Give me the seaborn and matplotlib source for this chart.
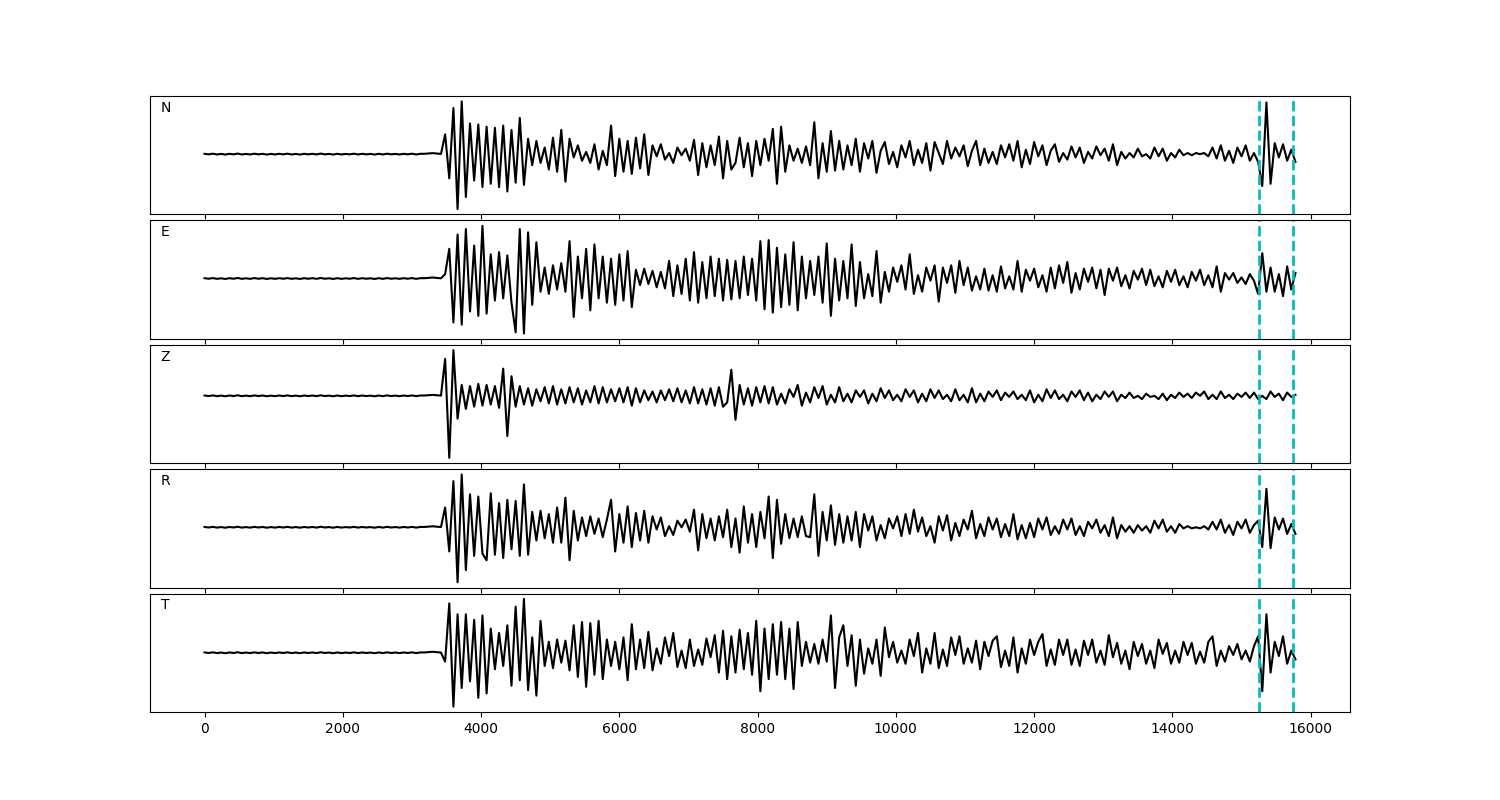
import numpy as np
import matplotlib
matplotlib.use("Agg")
import matplotlib.pyplot as plt
import seaborn as sns

dt = 60

channels = ["N", "E", "Z", "R", "T"]
picks = [15250, 15750]

# pre-event noise (shared by all channels)
quiet = [0.3, -0.2, 0.4, -0.3, 0.2, -0.4, 0.3, -0.2, 0.5, -0.3,
         0.2, -0.3, 0.4, -0.2, 0.3, -0.4, 0.2, -0.3, 0.3, -0.2,
         0.4, -0.3, 0.2, -0.4, 0.3, -0.2, 0.3, -0.3, 0.5, -0.2,
         0.2, -0.4, 0.3, -0.3, 0.2, -0.2, 0.4, -0.3, 0.3, -0.2,
         0.2, -0.4, 0.3, -0.3, 0.4, -0.2, 0.2, -0.3, 0.3, -0.2,
         0.4, -0.3, 0.3, 0.3, 0.6, 0.9, 0.6, 0.2]

n_trace = [18, -22, 42, -50, 48, -39, 28, -24, 27, -30,
           25, -27, 24, -30, 26, -34, 22, -26, 33, -28,
           14, -10, 12, -8, 6, -14, 15, -16, 22, -25,
           14, -3, 8, -6, 2, -8, 9, -14, 3, -10,
           26, -20, 14, -16, 12, -18, 15, -13, 18, -19,
           8, -2, 9, -5, 1, -8, 6, -1, 5, -6,
           13, -19, 10, -12, 8, -10, 16, -22, 12, -14,
           -8, 15, -12, 10, -20, 12, -10, 14, -6, 23,
           -27, 25, -16, 8, -6, 5, -8, 7, -10, 29,
           -22, 10, -16, 21, -15, 12, -14, 8, -10, 14,
           -16, 10, -4, 12, -17, 3, 11, -9, 2, -12,
           8, -3, 12, -10, 4, -8, 10, -15, 11, 1,
           -9, 12, -4, 6, -2, 8, -11, 3, 12, -10,
           5, -8, 2, -9, 8, -3, 9, -6, 12, -12,
           4, -9, 11, -2, 8, -10, 3, 9, -7, 1,
           -5, 7, -3, 6, -8, 2, -4, 7, -1, 5,
           -6, 9, -10, 2, -4, 1, -3, 5, -2, 0,
           -4, 6, -2, 5, -6, 1, -3, 4, -1, 1,
           -1, 1, 0, 1, -2, 6, -4, 8, -6, 3,
           -8, 6, -2, 8, -6, 1, -7, -29, 47, -27,
           10, -3, 9, -6, 4, -7]

e_trace = [4, 27, -40, 40, -42, 45, -30, 30, -34, 48,
           -32, 22, -20, 24, -18, 21, -22, -49, 45, -50,
           42, -24, 33, -12, 10, -14, 12, -10, 14, -12,
           34, -35, 20, -18, 27, -29, 31, -18, 20, -22,
           18, -24, 22, -20, 25, -26, 8, -6, 9, -5,
           7, -8, 6, -9, 16, -16, 12, -14, 18, -20,
           24, -22, 15, -18, 20, -16, 18, -20, 17, -19,
           16, -18, 20, -15, 18, -20, 34, -28, 35, -31,
           28, -26, 22, -24, 33, -29, 20, -18, 16, -15,
           20, -22, 32, -34, 18, -20, 16, -18, 31, -25,
           15, -18, 4, -16, 25, -22, 6, -12, 10, -3,
           12, -10, 22, -14, 3, -12, 10, -2, 12, -21,
           10, -4, 12, -13, 16, -6, 10, -11, 2, -10,
           9, -11, 3, -12, 11, -9, 2, -10, 16, -12,
           8, -2, 9, -8, 3, -12, 10, -9, 12, -4,
           15, -13, 5, -10, 9, -3, 10, -9, 8, -15,
           9, -2, 10, -7, 3, -9, 7, -1, 9, -6,
           8, -7, 2, -8, 7, -3, 8, -6, 2, -8,
           6, -2, 8, -6, 3, -8, 11, -12, 5, -1,
           5, -4, 1, -5, 4, -2, -14, 23, -12, 10,
           -12, 4, -16, 11, -10, 5]

z_trace = [34, -57, 42, -21, 10, -12, 9, -10, 11, -9,
           10, -8, 9, -11, 25, -37, 18, -10, 9, -8,
           7, -9, 6, -5, 8, -7, 9, -8, 6, -7,
           8, -6, 7, -8, 5, -6, 9, -7, 8, -6,
           6, -5, 7, -6, 8, -9, 7, -6, 5, -4,
           4, -6, 5, -4, 6, -5, 7, -6, 5, -7,
           8, -7, 6, -8, 7, -9, 8, -10, -6, 24,
           -22, 10, -8, 7, -9, 8, -6, 9, -7, 8,
           -8, 2, -7, 6, -1, 10, -9, 3, -6, 8,
           -2, 9, -8, 1, -6, 8, -5, 2, -6, 5,
           -1, 5, -7, 2, -5, 7, -2, 5, -4, 1,
           -5, 6, -1, 5, -6, 2, -5, 6, -2, 5,
           -3, 1, -5, 6, -4, 1, -6, 7, -6, 2,
           -5, 4, -1, 5, -4, 3, -1, 4, -3, 1,
           -4, 5, -6, 1, -5, 6, -2, 5, -3, 1,
           -5, 4, -1, 5, -4, 3, -5, 1, -3, 4,
           -1, 4, -5, 1, -2, 3, -2, 0, -3, 2,
           -1, 0, -3, 2, -4, 1, -2, 3, -1, 2,
           -2, 3, 0, 4, -3, 1, -3, 4, -2, 1,
           -3, 2, -1, 3, -2, 3, -3, 0, -3, 4,
           -1, 2, -4, 3, -1, 1]

r_trace = [18, -22, 42, -50, 48, -39, 30, -26, 28, -24,
           -30, 31, -25, 22, -28, 25, -20, 24, -26, 39,
           -25, 14, -12, 15, -10, 12, -14, 18, -14, 27,
           -30, 15, -12, 9, -8, 10, -6, 8, -9, 7,
           25, -22, 12, -14, 19, -18, 13, -12, 15, -14,
           10, -2, 9, -8, 1, -7, 6, 0, 7, -4,
           16, -21, 12, -10, 8, -12, 10, -9, 16, -18,
           8, -23, 19, -14, 12, -18, 14, -10, 28, -28,
           25, -15, 12, -10, 8, -9, 10, -8, -9, 30,
           -26, 14, -12, 20, -16, 12, -14, 10, -12, 14,
           -18, 12, -3, 10, -12, 2, -10, 8, -1, 10,
           -8, 12, -6, 16, -4, 9, -8, 1, -14, 10,
           -3, 11, -12, 4, -8, 7, -2, 15, -10, 3,
           -8, 9, -2, 8, -9, 3, -8, 12, -11, 2,
           -10, 4, -9, 8, -2, 9, -7, 1, -6, 7,
           -2, 8, -7, 1, -8, 5, -1, 7, -5, 2,
           -8, 9, -10, 2, -4, 1, -5, 2, -3, 1,
           -5, 6, -1, 7, -4, 1, -5, 3, -1, 1,
           -1, 0, -1, 1, -2, 5, -2, 7, -5, 2,
           -7, 5, -1, 7, -5, 2, 6, -18, 35, -19,
           9, -2, 8, -6, 3, -6]

t_trace = [-8, 45, -49, 35, -32, 35, -26, 30, -41, 34,
           -37, 22, -15, 18, -12, 25, -30, 42, -25, 49,
           -34, 14, -39, 29, -12, 10, -14, 12, -9, 11,
           -16, 25, -22, 28, -31, 27, -20, 29, -24, 12,
           -12, 10, -15, 14, -25, 26, -15, 12, -14, 19,
           -16, 4, -10, 14, -3, 18, -13, 2, -14, 12,
           -12, 3, -11, 13, -4, 16, -18, 20, -24, 15,
           -18, 21, -15, 18, -20, 29, -35, 22, -24, 26,
           -20, 28, -24, 22, -33, 28, -12, 10, -9, 8,
           -10, 12, -8, 34, -32, 14, 25, -12, 16, -30,
           12, -19, 4, -10, 12, -21, 23, -4, 10, -9,
           2, -10, 12, -3, 18, -18, 4, -10, 18, -14,
           3, -12, 14, -2, 15, -10, 4, -9, 11, -15,
           10, -3, 11, 15, -13, 2, -12, 14, -18, 4,
           -10, 12, -2, 10, 17, -12, 3, -11, 12, -2,
           12, -11, 3, -12, 11, -2, 12, -9, 2, -11,
           16, -4, 9, -10, 2, -15, 10, -3, 8, -10,
           2, -14, 12, -1, 9, -10, 2, -9, 10, -2,
           9, -10, 1, -9, 10, 15, -12, 2, -8, 6,
           -2, 8, -6, 2, -8, 6, 15, -35, 35, -18,
           10, -3, 15, -10, 2, -6]

traces = [n_trace, e_trace, z_trace, r_trace, t_trace]

fig, axes = plt.subplots(5, 1, figsize=(15, 8), dpi=100, sharex=True)
fig.subplots_adjust(left=0.1, right=0.9, top=0.88, bottom=0.11, hspace=0.05)

for ax, name, tr in zip(axes, channels, traces):
    amp = np.array(quiet + tr, dtype=float)
    t = np.arange(len(amp)) * dt
    sns.lineplot(x=t, y=amp, ax=ax, color="k", linewidth=1.5, sort=False)
    for p in picks:
        ax.axvline(p, color="c", linestyle="--", linewidth=2)
    ax.set_yticks([])
    ax.set_ylabel("")
    ax.text(0.009, 0.9, name, transform=ax.transAxes, fontsize=10, va="center")

axes[-1].set_xticks(np.arange(0, 16001, 2000))
fig.savefig("out.png")
